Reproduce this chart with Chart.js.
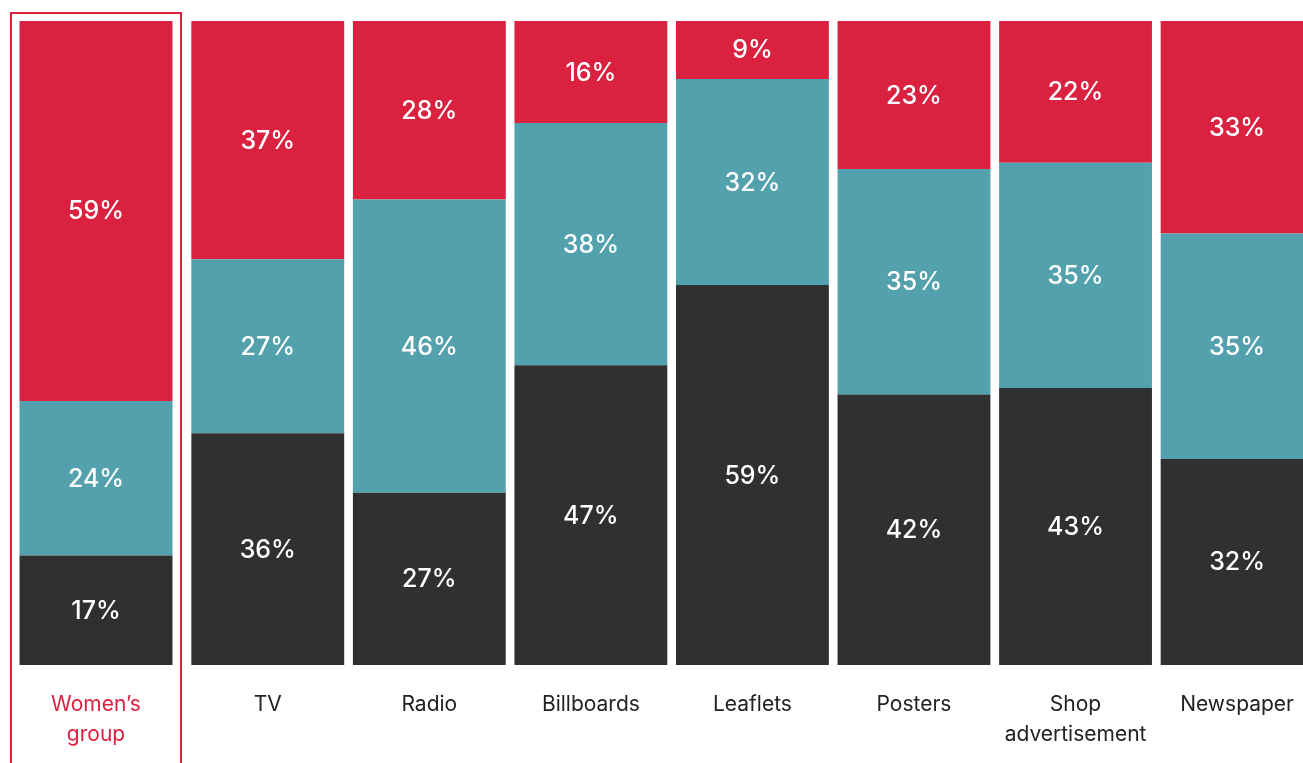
<!DOCTYPE html>
<html>
<head>
<meta charset="utf-8">
<title>Information sources</title>
<script src="https://cdn.jsdelivr.net/npm/chart.js@4.4.1/dist/chart.umd.min.js"></script>
<style>
  html, body { margin: 0; padding: 0; background: #fff; width: 1303px; height: 763px; overflow: hidden; }
  .panel { position: absolute; top: 12px; height: 800px; }
  /* the first source gets its own outlined panel */
  #highlight { left: 10px; width: 168px; border: 2px solid #DA2140; }
  #others { left: 187px; top: 14px; width: 1132px; }
  canvas { display: block; }
</style>
</head>
<body>
<div id="highlight" class="panel"><canvas id="highlightChart" width="168" height="749"></canvas></div>
<div id="others" class="panel"><canvas id="othersChart" width="1132" height="749"></canvas></div>
<script>
// sources, left to right
const categories = [
  ['Women\u2019s', 'group'], 'TV', 'Radio', 'Billboards', 'Leaflets',
  'Posters', ['Shop', 'advertisement'], 'Newspaper'
];

// shares in %, stacked bottom -> top
const bottomShares = [17, 36, 27, 47, 59, 42, 43, 32];
const middleShares = [24, 27, 46, 38, 32, 35, 35, 35];
const topShares    = [59, 37, 28, 16,  9, 23, 22, 33];

const RED = '#DA2140';
const TEAL = '#54A1AE';
const DARK = '#2F3030';

const series = [
  { values: bottomShares, color: DARK },
  { values: middleShares, color: TEAL },
  { values: topShares, color: RED }
];

// rounding leaves some columns at 101, so every column is scaled to fill the bar
const totals = categories.map((c, i) => series.reduce((s, d) => s + d.values[i], 0));

// white % label in the middle of each segment
const segmentLabels = {
  id: 'segmentLabels',
  afterDatasetsDraw(chart) {
    const ctx = chart.ctx;
    ctx.save();
    ctx.font = '500 25px Inter';
    ctx.fillStyle = '#fff';
    ctx.textAlign = 'center';
    ctx.textBaseline = 'middle';
    chart.data.datasets.forEach((ds, i) => {
      chart.getDatasetMeta(i).data.forEach((bar, j) => {
        const p = bar.getProps(['x', 'y', 'base'], true);
        ctx.fillText(ds.shares[j] + '%', p.x, (p.y + p.base) / 2 + 1);
      });
    });
    ctx.restore();
  }
};

function buildChart(canvasId, from, to, barPct, labelColor) {
  const idx = [];
  for (let i = from; i < to; i++) idx.push(i);

  return new Chart(document.getElementById(canvasId), {
    type: 'bar',
    data: {
      labels: idx.map(i => categories[i]),
      datasets: series.map(s => ({
        data: idx.map(i => s.values[i] / totals[i] * 100),
        shares: idx.map(i => s.values[i]),
        backgroundColor: s.color,
        borderWidth: 0,
        categoryPercentage: 1,
        barPercentage: barPct
      }))
    },
    options: {
      responsive: false,
      animation: false,
      layout: { padding: { top: 7, left: 0, right: 0, bottom: 0 } },
      plugins: { legend: { display: false }, tooltip: { enabled: false } },
      scales: {
        x: {
          stacked: true,
          grid: { display: false, drawTicks: false },
          border: { display: false },
          ticks: {
            color: labelColor,
            padding: 25,
            maxRotation: 0,
            autoSkip: false,
            font: { family: 'Inter', size: 21, lineHeight: 1.43 }
          },
          afterFit: axis => { axis.height = 98; }
        },
        y: {
          stacked: true,
          display: false,
          min: 0,
          max: 100
        }
      }
    },
    plugins: [segmentLabels]
  });
}

buildChart('highlightChart', 0, 1, 153 / 168, RED);
buildChart('othersChart', 1, categories.length, 153 / 161.7, '#222');
</script>
</body>
</html>
